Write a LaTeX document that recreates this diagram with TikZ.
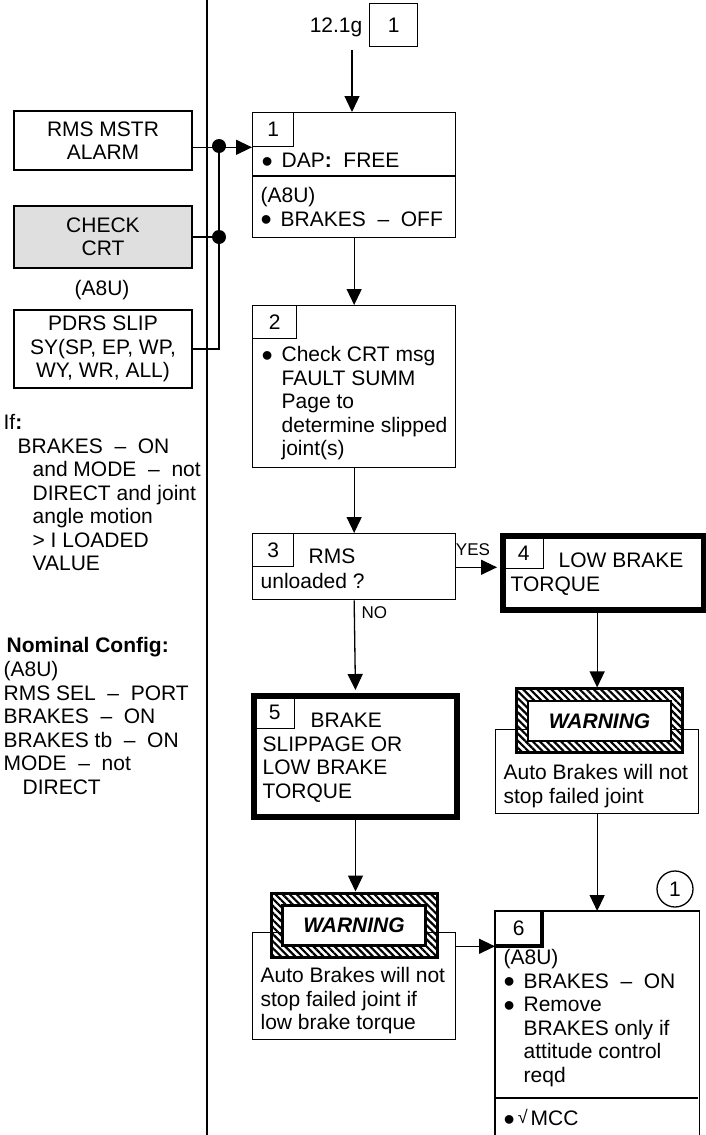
\documentclass[tikz,border=0pt]{standalone}
\usepackage{fontspec}
\setmainfont{Liberation Sans}
\usepackage{tikz}
\usetikzlibrary{arrows.meta, patterns.meta}

\newcommand{\bigdot}{\raisebox{-4.5pt}[0pt][0pt]{\fontsize{32}{32}\selectfont\textbullet}}
\newcommand{\bul}{\makebox[20pt][l]{\bigdot}}
\newcommand{\ind}{\hspace*{20pt}}
\newcommand{\dsh}{~~–~~}

\begin{document}
\begin{tikzpicture}[
  x=1pt, y=-1pt,
  >={Triangle[length=16pt, width=15pt]},
  font=\fontsize{21}{23.5}\selectfont,
  line width=1.3pt,
  box/.style={
    draw, rectangle, anchor=north west, inner sep=0pt
  },
  thickbox/.style={box, line width=6pt},
  tab/.style={box, align=center},
  txt/.style={
    anchor=north west, inner sep=0pt, align=left,
    execute at begin node={\rule{0pt}{16pt}}
  },
  sidebox/.style={
    draw, rectangle, minimum width=178pt, align=center, inner sep=0pt
  },
  hatch/.style={
    draw, line width=3pt, minimum width=166pt, minimum height=64pt,
    pattern={Lines[angle=-45, distance=5pt, line width=2.2pt]}
  },
  warnlabel/.style={
    draw, fill=white, line width=2.6pt,
    minimum width=143pt, minimum height=40pt, inner sep=0pt,
    font=\fontsize{21}{23.5}\selectfont\bfseries\itshape
  },
  arrow/.style={->},
  lbl/.style={font=\fontsize{17}{17}\selectfont, inner sep=0pt}
]
\useasboundingbox (0,0) rectangle (705,1135);

% --- Divider between notes and flow ---
\coordinate (divtop) at (207,0);
\coordinate (divbot) at (207,1135);
\draw (divtop) -- (divbot);

% --- Left side: alarm sources ---
\node[sidebox, minimum height=59pt] (alarm) at (103,140.5) {RMS MSTR\\ALARM};
\node[sidebox, minimum height=62pt, fill=gray!25] (crt) at (103,237) {CHECK\\CRT};
\node[inner sep=0pt] (a8uL) at (102,290.5) {(A8U)};
\node[sidebox, minimum height=78pt] (pdrs) at (103,349) {PDRS SLIP\\SY(SP, EP, WP,\\WY, WR, ALL)};

% --- Left side: notes ---
\node[txt] (ifnote) at (3,414) {If\textbf{:}\\\hspace*{14pt}BRAKES\dsh ON\\\hspace*{29pt}and MODE\dsh not\\\hspace*{29pt}DIRECT and joint\\\hspace*{29pt}angle motion\\\hspace*{29pt}> I LOADED\\\hspace*{29pt}VALUE};
\node[txt, font=\fontsize{21}{23.5}\selectfont\bfseries] (nomhead) at (6,636) {Nominal Config:};
\node[txt] (nomcfg) at (3,661) {(A8U)\\RMS SEL\dsh PORT\\BRAKES\dsh ON\\BRAKES tb\dsh ON\\MODE\dsh not\\\hspace*{19pt}DIRECT};

% --- Entry ---
\node[inner sep=0pt, anchor=base east] (entry) at (363,32) {12.1g};
\node[tab, minimum width=48pt, minimum height=43pt] (entrybox) at (369,3) {1};
\coordinate (entryout) at (352,50);

% --- Step 1 ---
\node[box, minimum width=203pt, minimum height=125pt] (box1) at (252,112) {};
\node[tab, minimum width=41pt, minimum height=34pt] (tab1) at (252,112) {1};
\draw (box1.north west) ++(0,64) -- ++(203,0);
\node[txt] (step1a) at (261,151) {\bul DAP\textbf{:}~~FREE};
\node[txt] (step1b) at (260,187) {(A8U)\\\bul BRAKES\dsh OFF};

% --- Step 2 ---
\node[box, minimum width=203pt, minimum height=162pt] (box2) at (252,305) {};
\node[tab, minimum width=44pt, minimum height=33pt] (tab2) at (252,305) {2};
\node[txt] (step2) at (261,346) {\bul Check CRT msg\\\ind FAULT SUMM\\\ind Page to\\\ind determine slipped\\\ind joint(s)};

% --- Step 3 ---
\node[box, minimum width=203pt, minimum height=66pt] (box3) at (252,533) {};
\node[tab, minimum width=41pt, minimum height=33pt] (tab3) at (252,533) {3};
\node[txt] (step3a) at (308,547) {RMS};
\node[txt] (step3b) at (260,572) {unloaded ?};

% --- Step 4 ---
\node[thickbox, minimum width=201pt, minimum height=74pt] (box4) at (500,533) {};
\node[tab, minimum width=40pt, minimum height=31pt] (tab4) at (503,537) {4};
\node[txt] (step4a) at (558,551) {LOW BRAKE};
\node[txt] (step4b) at (510,575) {TORQUE};

% --- Step 5 ---
\node[thickbox, minimum width=203pt, minimum height=121pt] (box5) at (251,693) {};
\node[tab, minimum width=40pt, minimum height=32pt] (tab5) at (254,696) {5};
\node[txt] (step5a) at (310,711) {BRAKE};
\node[txt] (step5b) at (262,736) {SLIPPAGE OR\\LOW BRAKE\\TORQUE};

% --- Warnings ---
\node[box, fill=white, minimum width=203pt, minimum height=84pt] (wtxtR) at (495,729) {};
\node[txt] (wnoteR) at (503,764) {Auto Brakes will not\\stop failed joint};
\node[hatch] (warnR) at (599.5,720.5) {};
\node[warnlabel] (warnRin) at (599.5,721) {WARNING};

\node[box, fill=white, minimum width=203pt, minimum height=107pt] (wtxtL) at (252,932) {};
\node[txt] (wnoteL) at (260,967) {Auto Brakes will not\\stop failed joint if\\low brake torque};
\node[hatch] (warnL) at (354,925) {};
\node[warnlabel] (warnLin) at (354,925.5) {WARNING};

% --- Step 6 (runs on past the page) ---
\node[box, draw=none, minimum width=203pt, minimum height=224pt] (box6) at (495,911) {};
\draw (box6.south west) -- (box6.north west) -- (box6.north east) -- (box6.south east);
\draw (box6.north west) ++(0,187) -- ++(203,0);
\node[tab, draw=none, minimum width=46pt, minimum height=34pt] (tab6) at (495,911) {6};
\draw[line width=4pt] (tab6.north east) -- (tab6.south east) -- (tab6.south west);
\node[txt] (step6) at (503,949) {(A8U)\\\bul BRAKES\dsh ON\\\bul Remove\\\ind BRAKES only if\\\ind attitude control\\\ind reqd};
\node[txt] (mcc) at (503,1109) {\bigdot\hspace{3pt}{\fontsize{18}{18}\selectfont\raisebox{2pt}{√}}\hspace{3pt}MCC};
\node[circle, draw, minimum size=36pt, inner sep=0pt] (ref1) at (675,889) {1};

% --- Connectors ---
\coordinate (bus) at (219,146);
\draw[arrow] (alarm.east |- tab1.south) -- (box1.west |- tab1.south);
\draw (crt.east) -- (bus |- crt.east);
\draw (pdrs.east) -- (bus |- pdrs.east) -- (bus);
\fill (bus) circle (7pt);
\fill (bus |- crt.east) circle (7pt);

\draw[arrow] (entryout) -- (entryout |- box1.north);
\draw[arrow] (box1.south) -- (box2.north);
\draw[arrow] (box2.south) -- (box3.north);
\draw[arrow, shorten >=3pt] (box3.east |- tab3.south) -- (box4.west |- tab3.south);
\node[lbl, anchor=base] (yes) at (473,555) {YES};
\draw[arrow, shorten >=3pt] (box3.south) -- (box5.north);
\node[lbl, anchor=base west] (no) at (361,618) {NO};
\draw[arrow] (box4.south -| wtxtR.north) -- (wtxtR.north |- warnR.north);
\draw[arrow] (box5.south) -- (box5.south |- warnL.north);
\draw[arrow] (wtxtR.south) -- (box6.north);
\draw[arrow] (wtxtL.east |- tab6.south) -- (box6.west |- tab6.south);

\end{tikzpicture}
\end{document}
